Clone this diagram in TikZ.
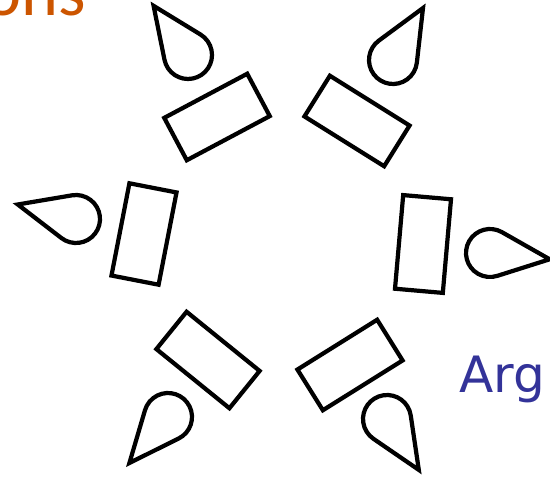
\documentclass[tikz,border=0pt]{standalone}
\usepackage{fontspec}
\usepackage{xcolor}
\newfontfamily\argfont{DejaVu Sans}
\newfontfamily\headfont{Carlito}
\definecolor{headorange}{RGB}{204,85,0}
\definecolor{argblue}{RGB}{51,51,153}
\tikzset{
  segbox/.style={
    rectangle, draw=black, line width=2.4pt, fill=white,
    minimum width=1.88cm, minimum height=0.96cm, inner sep=0pt
  },
  dropline/.style={draw=black, line width=2.4pt, line join=miter},
  droplet/.pic={
    \path[dropline] (60,0) -- (66.4:24)
      arc[start angle=66.4, end angle=293.6, radius=24] -- cycle;
  },
}

\begin{document}
\begin{tikzpicture}[x=0.02cm, y=0.02cm]
  \useasboundingbox (0,0) rectangle (550,476);

  % ── Segment boxes ──
  \node[segbox, rotate=28]  (boxTL) at (217,359) {};
  \node[segbox, rotate=-32] (boxTR) at (357,355) {};
  \node[segbox, rotate=79]  (boxL)  at (144,242) {};
  \node[segbox, rotate=85]  (boxR)  at (423,232) {};
  \node[segbox, rotate=-39] (boxBL) at (208,116) {};
  \node[segbox, rotate=32]  (boxBR) at (350,111) {};

  % ── Droplets ──
  \pic[rotate=125] at (188,421) {droplet};
  \pic[rotate=60]  at (393,416) {droplet};
  \pic[rotate=166] at (76,257)  {droplet};
  \pic[rotate=-6]  at (490,223) {droplet};
  \pic[rotate=230] at (168,59)  {droplet};
  \pic[rotate=-58] at (387,57)  {droplet};

  % ── Labels ──
  \node[font=\headfont\fontsize{40}{40}\selectfont, text=headorange,
        anchor=base east, inner sep=0pt] (headtxt) at (86,460) {ons};
  \node[font=\argfont\fontsize{28.5}{28.5}\selectfont, text=argblue,
        anchor=base west, inner sep=0pt] (argtxt) at (459,83) {Arg};

\end{tikzpicture}
\end{document}
